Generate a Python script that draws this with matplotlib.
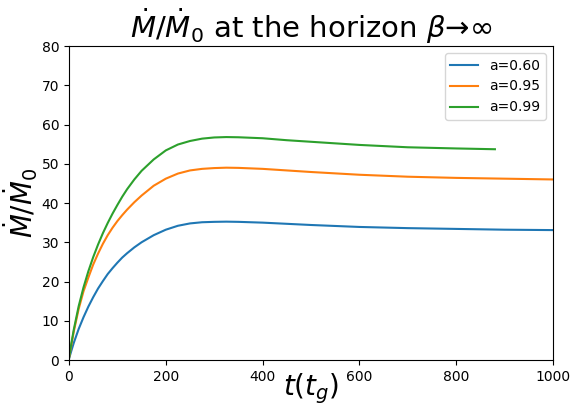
import numpy as np
import matplotlib
matplotlib.use("Agg")
import matplotlib.pyplot as plt

# time in units of t_g
t = [0, 5, 10, 20, 30, 40, 50, 60, 70, 80, 90, 100, 110, 120, 135, 150, 175,
     200, 225, 250, 275, 300, 325, 350, 400, 450, 500, 600, 700, 800, 900, 1000]
t_green = [0, 5, 10, 20, 30, 40, 50, 60, 70, 80, 90, 100, 110, 120, 135, 150, 175,
           200, 225, 250, 275, 300, 325, 350, 400, 450, 500, 600, 700, 800, 880]

# accretion rate Mdot/Mdot_0 at the horizon
mdot_060 = [0.3, 2.4, 4.4, 7.9, 10.9, 13.6, 16.0, 18.2, 20.1, 21.9, 23.4, 24.8,
            26.1, 27.2, 28.7, 30.0, 31.8, 33.2, 34.2, 34.8, 35.1, 35.2, 35.25,
            35.2, 35.0, 34.7, 34.4, 33.9, 33.6, 33.4, 33.2, 33.1]
mdot_095 = [0.5, 3.9, 7.3, 13.0, 17.5, 21.0, 24.3, 27.1, 29.6, 31.8, 33.7, 35.4,
            36.9, 38.3, 40.2, 41.9, 44.4, 46.2, 47.5, 48.3, 48.7, 48.9, 49.0,
            48.95, 48.7, 48.3, 47.9, 47.2, 46.7, 46.4, 46.2, 46.0]
mdot_099 = [0.5, 4.3, 7.8, 13.7, 18.5, 22.6, 26.2, 29.4, 32.3, 34.9, 37.3, 39.5,
            41.6, 43.5, 46.0, 48.2, 51.1, 53.4, 54.9, 55.8, 56.4, 56.7, 56.8,
            56.75, 56.5, 56.0, 55.6, 54.8, 54.2, 53.9, 53.7]

fig = plt.figure(figsize=(5.72, 4.13), dpi=100)
ax = fig.add_axes([0.1206, 0.1283, 0.8462, 0.7603])

ax.plot(t, mdot_060, label='a=0.60')
ax.plot(t, mdot_095, label='a=0.95')
ax.plot(t_green, mdot_099, label='a=0.99')

ax.set_xlim(0, 1000)
ax.set_ylim(0, 80)
ax.set_xlabel(r'$t(t_g)$', fontsize=20, labelpad=-9)
ax.set_ylabel(r'$\dot M/\dot M_0$', fontsize=20, labelpad=1.5)
ax.set_title(r'$\dot M/\dot M_0$ at the horizon $\beta$→∞', fontsize=21)
ax.legend(loc='upper right')

fig.savefig('out.png', dpi=100)
